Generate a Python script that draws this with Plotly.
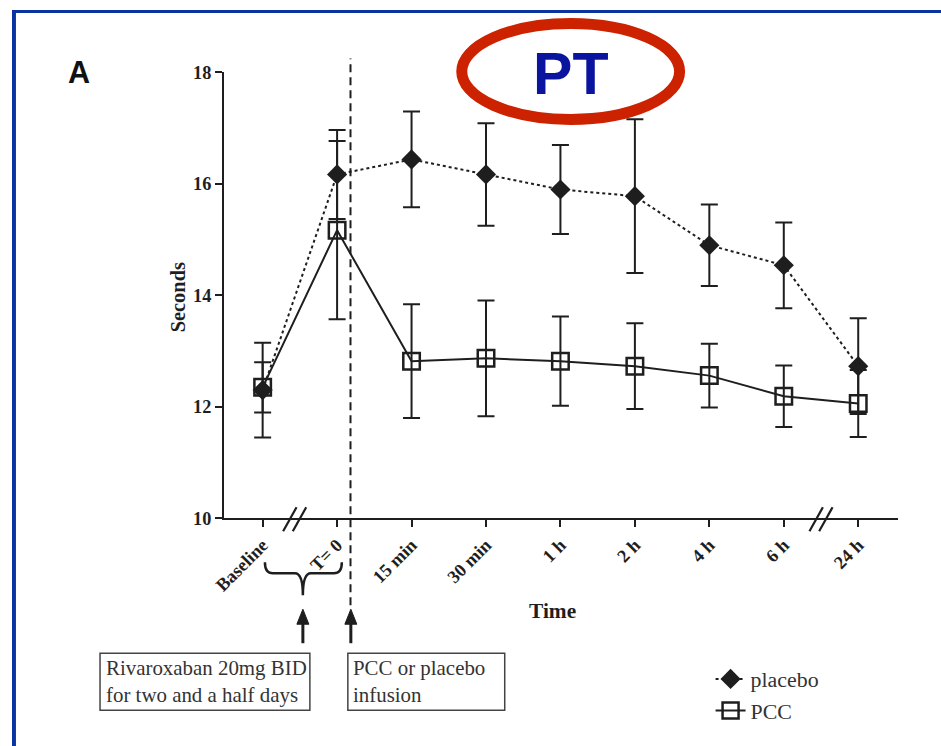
import plotly.graph_objects as go

# ---- data ----
categories = ["Baseline", "T= 0", "15 min", "30 min", "1 h", "2 h", "4 h", "6 h", "24 h"]
placebo_mean = [12.3, 16.17, 16.44, 16.17, 15.9, 15.78, 14.9, 14.54, 12.73]
placebo_err = [0.85, 0.8, 0.86, 0.92, 0.8, 1.38, 0.73, 0.77, 0.86]
pcc_mean = [12.35, 15.17, 12.82, 12.87, 12.82, 12.73, 12.56, 12.19, 12.06]
pcc_err = [0.45, 1.6, 1.02, 1.04, 0.8, 0.77, 0.57, 0.55, 0.6]
y_ticks = [10, 12, 14, 16, 18]

# figure size and mapping from target-picture pixels to figure pixels
W, H = 942, 756
SX, SY, CX, CY, BODY = 0.988, 0.974, 2.0, 1.7, 8.0
FS = 1 / 0.981  # font compensation
INK = "#1e1e1e"
SERIF = "Liberation Serif"


def fxp(r):
    return (r - CX) / SX - BODY


def fyp(r):
    return (r - CY) / SY - BODY


def px(r):
    return fxp(r) / W


def py(r):
    return 1 - fyp(r) / H


def fs(s):
    return round(s * FS, 1)


xpos = list(range(len(categories)))

fig = go.Figure()
fig.add_trace(go.Scatter(
    x=xpos, y=placebo_mean, name="placebo", mode="lines+markers",
    line=dict(color=INK, width=2, dash="dot"),
    marker=dict(symbol="diamond", size=15.5, color=INK),
    error_y=dict(type="data", array=placebo_err, visible=True,
                 color=INK, thickness=2, width=8.5),
))
fig.add_trace(go.Scatter(
    x=xpos, y=pcc_mean, name="PCC", mode="lines+markers",
    line=dict(color=INK, width=2),
    marker=dict(symbol="square-open", size=16.5, color=INK, line=dict(width=2.5, color=INK)),
    error_y=dict(type="data", array=pcc_err, visible=True,
                 color=INK, thickness=2, width=8.5),
))

shapes = []
# blue frame (top and left edges)
shapes.append(dict(type="rect", xref="paper", yref="paper", x0=0, x1=1, y0=1 - 3 / H, y1=1,
                   fillcolor="#0a32a0", line=dict(width=0), layer="above"))
shapes.append(dict(type="rect", xref="paper", yref="paper", x0=0, x1=4 / W, y0=0, y1=1,
                   fillcolor="#0a32a0", line=dict(width=0), layer="above"))

# vertical dashed infusion line
shapes.append(dict(type="line", xref="x", yref="paper", x0=1.18, x1=1.18,
                   y0=py(605), y1=py(58), line=dict(color=INK, width=2, dash="8px,5px")))

# axis break marks "//"
for xb in (0.43, 7.5):
    for off in (-0.065, 0.065):
        shapes.append(dict(type="line", xref="x", yref="paper",
                           x0=xb + off - 0.09, x1=xb + off + 0.09,
                           y0=py(531), y1=py(507), line=dict(color=INK, width=2.2)))

# brace under Baseline/T=0
bx0, bx1, bxm = 263, 340, 301
ytop, ymid, ytip = 562, 573, 595
path = (f"M {px(bx0)},{py(ytop)} Q {px(bx0)},{py(ymid)} {px(bx0+8)},{py(ymid)} "
        f"L {px(bxm-8)},{py(ymid)} Q {px(bxm)},{py(ymid)} {px(bxm)},{py(ytip)} "
        f"Q {px(bxm)},{py(ymid)} {px(bxm+8)},{py(ymid)} "
        f"L {px(bx1-8)},{py(ymid)} Q {px(bx1)},{py(ymid)} {px(bx1)},{py(ytop)}")
shapes.append(dict(type="path", xref="paper", yref="paper", path=path,
                   line=dict(color=INK, width=2.5)))

# arrows
for ax in (301, 349):
    shapes.append(dict(type="line", xref="paper", yref="paper", x0=px(ax), x1=px(ax),
                       y0=py(643), y1=py(618), line=dict(color=INK, width=3)))
    tri = (f"M {px(ax-6)},{py(624)} L {px(ax+6)},{py(624)} L {px(ax)},{py(609)} Z")
    shapes.append(dict(type="path", xref="paper", yref="paper", path=tri,
                       fillcolor=INK, line=dict(color=INK, width=1)))

# text boxes
for (x0, x1) in ((98, 308), (346, 503)):
    shapes.append(dict(type="rect", xref="paper", yref="paper",
                       x0=px(x0), x1=px(x1), y0=py(710), y1=py(653),
                       line=dict(color="#444444", width=1.5)))

# PT ellipse
cx, cy, rx, ry = 569, 71, 109, 48
shapes.append(dict(type="circle", xref="paper", yref="paper",
                   x0=px(cx - rx), x1=px(cx + rx), y0=py(cy + ry), y1=py(cy - ry),
                   line=dict(color="#cc2200", width=11)))

annotations = [
    dict(text="A", x=px(64), y=py(72), xref="paper", yref="paper", xanchor="left",
         yanchor="middle", showarrow=False,
         font=dict(family="Liberation Sans", size=fs(30), color="#111", weight="bold")),
    dict(text="PT", x=px(569), y=py(73), xref="paper", yref="paper", showarrow=False,
         xanchor="center", yanchor="middle",
         font=dict(family="Liberation Sans", size=fs(58), color="#0a149e", weight="bold")),
    dict(text="Seconds", x=px(176), y=py(297), xref="paper", yref="paper", showarrow=False,
         xanchor="center", yanchor="middle",
         textangle=-90, font=dict(family=SERIF, size=fs(20), color=INK, weight="bold")),
    dict(text="Time", x=px(551), y=py(611), xref="paper", yref="paper", showarrow=False,
         xanchor="center", yanchor="middle",
         font=dict(family=SERIF, size=fs(21), color=INK, weight="bold")),
    dict(text="Rivaroxaban 20mg BID<br>for two and a half days", x=px(102), y=py(681),
         xref="paper", yref="paper", xanchor="left", yanchor="middle", align="left",
         showarrow=False, font=dict(family=SERIF, size=fs(20.5), color="#333")),
    dict(text="PCC or placebo<br>infusion", x=px(349), y=py(681),
         xref="paper", yref="paper", xanchor="left", yanchor="middle", align="left",
         showarrow=False, font=dict(family=SERIF, size=fs(20.5), color="#333")),
]

fig.update_layout(
    width=W, height=H, margin=dict(l=0, r=0, t=0, b=0),
    paper_bgcolor="white", plot_bgcolor="white",
    shapes=shapes, annotations=annotations,
    showlegend=True,
    legend=dict(x=px(709), y=py(658), xanchor="left", yanchor="top",
                font=dict(family=SERIF, size=fs(21.5), color="#333"),
                bgcolor="rgba(0,0,0,0)", tracegroupgap=0),
    xaxis=dict(domain=[px(222), px(897)], range=[-0.52, 8.54],
               tickvals=xpos, ticktext=categories, tickangle=-45,
               showline=True, linecolor=INK, linewidth=2,
               ticks="outside", ticklen=7, tickwidth=2, tickcolor=INK,
               showgrid=False, zeroline=False,
               tickfont=dict(family=SERIF, size=fs(18), color=INK, weight="bold")),
    yaxis=dict(domain=[py(518), py(72)], range=[10, 18],
               tickvals=y_ticks, showline=True, linecolor=INK, linewidth=2,
               ticks="outside", ticklen=7, tickwidth=2, tickcolor=INK,
               showgrid=False, zeroline=False,
               tickfont=dict(family=SERIF, size=fs(18), color=INK, weight="bold")),
)

fig.write_html("out.html")
